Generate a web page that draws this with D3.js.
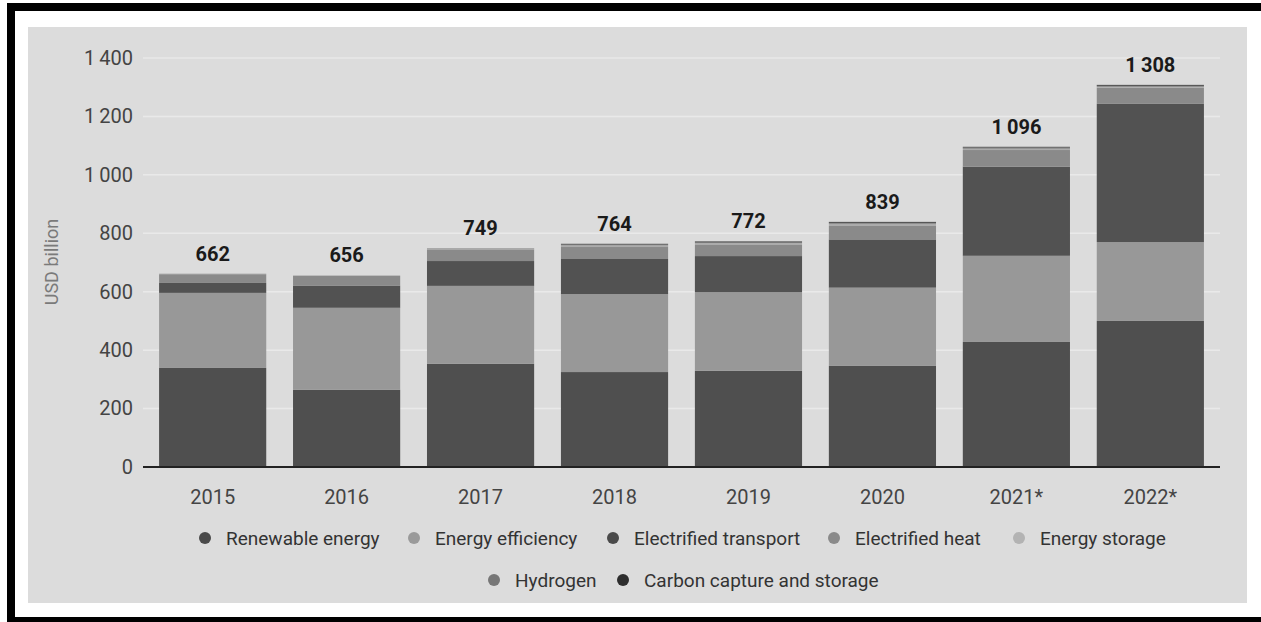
<!DOCTYPE html>
<html>
<head>
<meta charset="utf-8">
<script src="https://cdn.jsdelivr.net/npm/d3@7"></script>
<style>
  body { margin: 0; background: #fff; }
  svg { display: block; font-family: Roboto, "Open Sans", sans-serif; }
</style>
</head>
<body>
<div id="chart"></div>
<script>
// Clean energy investment by technology, USD billion
const years = ["2015", "2016", "2017", "2018", "2019", "2020", "2021*", "2022*"];
const seriesNames = ["Renewable energy", "Energy efficiency", "Electrified transport",
  "Electrified heat", "Energy storage", "Hydrogen", "Carbon capture and storage"];
const renewable = [339, 264, 353, 325, 329, 346, 428, 500];
const efficiency = [257, 281, 267, 267, 270, 268, 295, 270];
const transport = [34, 75, 85, 120, 123, 165, 305, 473];
const heat = [30, 34, 40, 41, 38, 46, 57, 55];
const storage = [2, 2, 3, 6, 7, 8, 5, 4];
const hydrogen = [0, 0, 1, 3, 3, 3, 4, 3];
const ccs = [0, 0, 0, 2, 2, 3, 2, 3];
const yTicks = [0, 200, 400, 600, 800, 1000, 1200, 1400];

const colors = ["#4f4f4f", "#989898", "#525252", "#8a8a8a", "#ababab", "#6f6f6f", "#383838"];
const legendDots = ["#4a4a4a", "#9a9a9a", "#4a4a4a", "#8a8a8a", "#b3b3b3", "#777777", "#2e2e2e"];

const width = 1261, height = 622;

const table = years.map((y, i) => ({
  year: y,
  "Renewable energy": renewable[i],
  "Energy efficiency": efficiency[i],
  "Electrified transport": transport[i],
  "Electrified heat": heat[i],
  "Energy storage": storage[i],
  "Hydrogen": hydrogen[i],
  "Carbon capture and storage": ccs[i]
}));
const totals = table.map(d => d3.sum(seriesNames, k => d[k]));

const svg = d3.select("#chart").append("svg")
  .attr("width", width)
  .attr("height", height);

// frame: white page, black border, grey panel
svg.append("rect").attr("width", width).attr("height", height).attr("fill", "#fff");
svg.append("rect").attr("x", 7).attr("y", 3).attr("width", width - 7).attr("height", 8).attr("fill", "#000");
svg.append("rect").attr("x", 7).attr("y", 3).attr("width", 8).attr("height", height - 3).attr("fill", "#000");
svg.append("rect").attr("x", 7).attr("y", 617).attr("width", width - 7).attr("height", 5).attr("fill", "#000");
svg.append("rect").attr("x", 28).attr("y", 27).attr("width", 1219).attr("height", 576).attr("fill", "#dcdcdc");

const x = d3.scaleBand().domain(years).range([143, 1220]).paddingInner(0.2).paddingOuter(0.12);
const y = d3.scaleLinear().domain([0, 1400]).range([467, 58]);

const fmt = v => {
  const s = String(v);
  return s.length > 3 ? s.slice(0, -3) + "\u2009" + s.slice(-3) : s;
};

// gridlines
svg.append("g")
  .selectAll("line")
  .data(yTicks.filter(t => t > 0))
  .join("line")
    .attr("x1", 143).attr("x2", 1220)
    .attr("y1", d => y(d)).attr("y2", d => y(d))
    .attr("stroke", "#e9e9e9")
    .attr("stroke-width", 1.5);

// y axis labels
const yAxis = d3.axisLeft(y).tickValues(yTicks).tickFormat(fmt).tickSize(0).tickPadding(0);
svg.append("g")
  .attr("transform", "translate(133,0)")
  .call(yAxis)
  .call(g => g.select(".domain").remove())
  .call(g => g.selectAll("text")
    .attr("font-size", 20)
    .attr("font-family", "Roboto, sans-serif")
    .attr("fill", "#444"));

svg.append("text")
  .attr("transform", "translate(58,262) rotate(-90)")
  .attr("text-anchor", "middle")
  .attr("font-size", 18)
  .attr("fill", "#7a7a7a")
  .text("USD billion");

// stacked bars
const stacked = d3.stack().keys(seriesNames)(table);
svg.append("g")
  .selectAll("g")
  .data(stacked)
  .join("g")
    .attr("fill", (d, i) => colors[i])
  .selectAll("rect")
  .data(d => d)
  .join("rect")
    .attr("x", d => x(d.data.year))
    .attr("width", x.bandwidth())
    .attr("y", d => y(d[1]))
    .attr("height", d => y(d[0]) - y(d[1]));

// total labels
svg.append("g")
  .selectAll("text")
  .data(years)
  .join("text")
    .attr("x", d => x(d) + x.bandwidth() / 2)
    .attr("y", (d, i) => y(totals[i]) - 13)
    .attr("text-anchor", "middle")
    .attr("font-size", 20)
    .attr("font-weight", "bold")
    .attr("fill", "#1a1a1a")
    .text((d, i) => fmt(totals[i]));

// x axis
const xAxis = d3.axisBottom(x).tickSize(0).tickPadding(0);
svg.append("g")
  .attr("transform", "translate(0,467)")
  .call(xAxis)
  .call(g => g.select(".domain").remove())
  .call(g => g.selectAll("text")
    .attr("dy", 0)
    .attr("y", 37)
    .attr("font-size", 20)
    .attr("font-family", "Roboto, sans-serif")
    .attr("fill", "#444"));
svg.append("line")
  .attr("x1", 143).attr("x2", 1220)
  .attr("y1", 467).attr("y2", 467)
  .attr("stroke", "#222")
  .attr("stroke-width", 2);

// legend
const legendPos = [
  [205, 538], [414, 538], [613, 538], [834, 538], [1019, 538],
  [494, 580], [623, 580]
];
const legend = svg.append("g")
  .selectAll("g")
  .data(seriesNames)
  .join("g")
    .attr("transform", (d, i) => `translate(${legendPos[i][0]},${legendPos[i][1]})`);
legend.append("circle")
  .attr("r", 6)
  .attr("fill", (d, i) => legendDots[i]);
legend.append("text")
  .attr("x", 21)
  .attr("dy", "0.35em")
  .attr("font-size", 19)
  .attr("fill", "#333")
  .text(d => d);
</script>
</body>
</html>
